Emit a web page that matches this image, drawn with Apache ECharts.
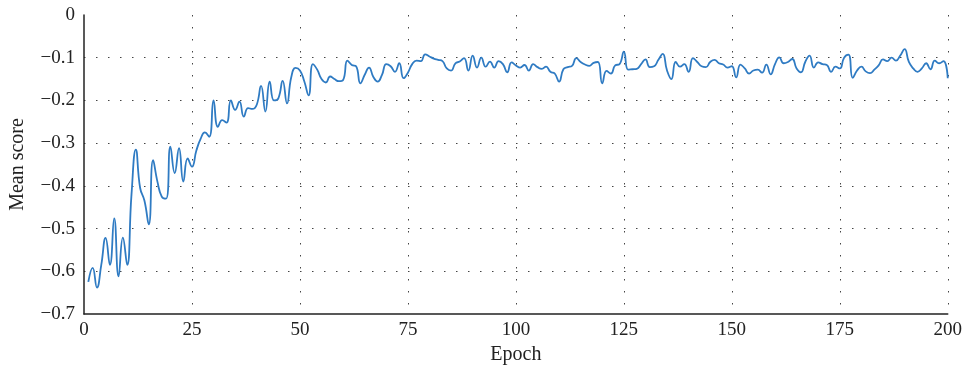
<!DOCTYPE html>
<html>
<head>
<meta charset="utf-8">
<script src="https://cdn.jsdelivr.net/npm/echarts@6/dist/echarts.min.js"></script>
<style>
  html, body { margin: 0; padding: 0; background: #fff; }
  #scoreChart { width: 965px; height: 372px; }
</style>
</head>
<body>
<div id="scoreChart"></div>
<script>
// epochs 1..200
var epochs = [];
for (var i = 1; i <= 200; i++) epochs.push(i);

// mean score per epoch
var meanScore = [
  -0.625, -0.592, -0.638, -0.585, -0.522, -0.585, -0.476, -0.612, -0.521, -0.585,
  -0.42, -0.315, -0.405, -0.435, -0.49, -0.34, -0.39, -0.425, -0.43, -0.308,
  -0.37, -0.312, -0.39, -0.336, -0.355, -0.318, -0.29, -0.275, -0.285, -0.2,
  -0.262, -0.246, -0.252, -0.2, -0.222, -0.203, -0.238, -0.218, -0.22, -0.21,
  -0.166, -0.226, -0.156, -0.2, -0.195, -0.154, -0.207, -0.145, -0.124, -0.13,
  -0.155, -0.188, -0.115, -0.128, -0.15, -0.158, -0.144, -0.15, -0.155, -0.152,
  -0.107, -0.117, -0.12, -0.16, -0.14, -0.123, -0.145, -0.156, -0.14, -0.115,
  -0.12, -0.133, -0.113, -0.148, -0.135, -0.115, -0.107, -0.108, -0.092, -0.097,
  -0.102, -0.105, -0.108, -0.125, -0.13, -0.113, -0.109, -0.101, -0.13, -0.095,
  -0.123, -0.1, -0.121, -0.109, -0.123, -0.108, -0.115, -0.134, -0.111, -0.118,
  -0.123, -0.117, -0.13, -0.115, -0.122, -0.126, -0.121, -0.133, -0.137, -0.156,
  -0.127, -0.122, -0.119, -0.101, -0.11, -0.116, -0.119, -0.112, -0.11, -0.16,
  -0.131, -0.137, -0.118, -0.115, -0.086, -0.128, -0.127, -0.126, -0.115, -0.104,
  -0.122, -0.12, -0.105, -0.091, -0.13, -0.15, -0.11, -0.121, -0.115, -0.133,
  -0.101, -0.11, -0.12, -0.122, -0.11, -0.105, -0.113, -0.116, -0.123, -0.12,
  -0.146, -0.116, -0.125, -0.137, -0.13, -0.128, -0.135, -0.116, -0.139, -0.115,
  -0.099, -0.113, -0.11, -0.103, -0.125, -0.134, -0.11, -0.095, -0.123, -0.111,
  -0.115, -0.117, -0.133, -0.121, -0.125, -0.1, -0.093, -0.147, -0.13, -0.121,
  -0.132, -0.136, -0.128, -0.118, -0.104, -0.108, -0.1, -0.107, -0.095, -0.08,
  -0.11, -0.125, -0.133, -0.125, -0.113, -0.127, -0.107, -0.113, -0.108, -0.148
];

var xTicks = [0, 25, 50, 75, 100, 125, 150, 175, 200];
var yTicks = [0, -0.1, -0.2, -0.3, -0.4, -0.5, -0.6, -0.7];

var fontFamily = 'Liberation Serif';
var textColor = '#222';

var points = epochs.map(function (e, k) { return [e, meanScore[k]]; });

var chart = echarts.init(document.getElementById('scoreChart'), null, { renderer: 'canvas' });
chart.setOption({
  animation: false,
  grid: { left: 84, right: 17, top: 15, bottom: 58 },
  xAxis: {
    type: 'value',
    min: xTicks[0],
    max: xTicks[xTicks.length - 1],
    interval: 25,
    name: 'Epoch',
    nameLocation: 'middle',
    nameGap: 31,
    nameTextStyle: { fontFamily: fontFamily, fontSize: 20, color: textColor },
    axisLine: { onZero: false, lineStyle: { color: '#222', width: 1.5 } },
    axisTick: { show: false },
    axisLabel: { fontFamily: fontFamily, fontSize: 19, color: textColor, margin: 7 },
    splitLine: { show: true, showMinLine: false, lineStyle: { type: [1.5, 10.5], color: '#444', width: 1 } }
  },
  yAxis: {
    type: 'value',
    min: yTicks[yTicks.length - 1],
    max: yTicks[0],
    interval: 0.1,
    name: 'Mean score',
    nameLocation: 'middle',
    nameGap: 56,
    nameRotate: 90,
    nameTextStyle: { fontFamily: fontFamily, fontSize: 20, color: textColor },
    axisLine: { show: true, onZero: false, lineStyle: { color: '#222', width: 1.5 } },
    axisTick: { show: false },
    axisLabel: {
      fontFamily: fontFamily, fontSize: 19, color: textColor, margin: 9,
      formatter: function (v) {
        var s = Math.round(v * 10) / 10;
        return s === 0 ? '0' : String(s).replace('-', '\u2212');
      }
    },
    splitLine: { show: true, showMinLine: false, showMaxLine: false, lineStyle: { type: [1.5, 10.5], color: '#444', width: 1 } }
  },
  series: [{
    type: 'line',
    data: points,
    smooth: true,
    showSymbol: false,
    lineStyle: { color: '#2f7bc3', width: 1.8 }
  }]
});
</script>
</body>
</html>
